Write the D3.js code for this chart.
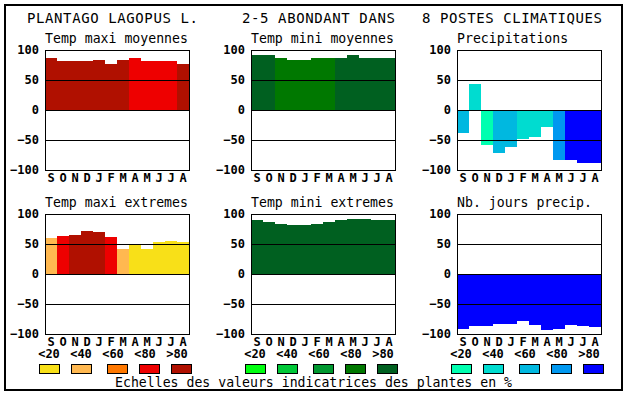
<!DOCTYPE html>
<html>
<head>
<meta charset="utf-8">
<script src="https://d3js.org/d3.v7.min.js"></script>
<style>
    body { margin: 0; background: #fff; }
    svg text { font-family: "DejaVu Sans Mono", monospace; fill: #000; }
</style>
</head>
<body>
<svg id="chart" width="630" height="394"></svg>
<script>
// months, september to august
const months = ["S", "O", "N", "D", "J", "F", "M", "A", "M", "J", "J", "A"];
const classLabels = ["<20", "<40", "<60", "<80", ">80"];

// colour scales of the indicator classes
const redScale = ["#f8e018", "#ffb850", "#ff7800", "#ee0000", "#b01000"];
const greenScale = ["#00ff10", "#00c838", "#009830", "#007800", "#006020"];
const blueScale = ["#00ffb0", "#00dcd0", "#00b8e0", "#0098f0", "#0000ff"];

const titles = ["PLANTAGO LAGOPUS L.", "2-5 ABONDANT DANS", "8 POSTES CLIMATIQUES"];
const footer = "Echelles des valeurs indicatrices des plantes en %";

// values and class (index in the colour scale) for each month
const tempMaxiMoy = [87, 82, 82, 82, 84, 77, 84, 87, 82, 82, 81, 77];
const tempMaxiMoyCls = [4, 4, 4, 4, 4, 4, 4, 3, 3, 3, 3, 4];
const tempMiniMoy = [91, 91, 86, 83, 84, 86, 87, 87, 91, 87, 87, 87];
const tempMiniMoyCls = [4, 4, 3, 3, 3, 3, 3, 4, 4, 4, 4, 4];
const precip = [-38, 44, -58, -72, -62, -49, -45, -28, -83, -83, -88, -88];
const precipCls = [2, 1, 0, 2, 2, 1, 1, 1, 3, 4, 4, 4];
const tempMaxiExt = [60, 63, 65, 72, 70, 62, 42, 48, 42, 53, 55, 53];
const tempMaxiExtCls = [1, 3, 4, 4, 4, 3, 1, 0, 0, 0, 0, 0];
const tempMiniExt = [90, 87, 84, 82, 82, 84, 87, 90, 92, 92, 90, 90];
const tempMiniExtCls = [4, 4, 4, 4, 4, 4, 4, 4, 4, 4, 4, 4];
const nbJours = [-92, -86, -86, -84, -84, -79, -85, -93, -92, -85, -87, -88];
const nbJoursCls = [4, 4, 4, 4, 4, 4, 4, 4, 4, 4, 4, 4];

const panels = [
    {name: "Temp maxi moyennes", values: tempMaxiMoy, cls: tempMaxiMoyCls, colors: redScale, col: 0, row: 0},
    {name: "Temp mini moyennes", values: tempMiniMoy, cls: tempMiniMoyCls, colors: greenScale, col: 1, row: 0},
    {name: "Precipitations", values: precip, cls: precipCls, colors: blueScale, col: 2, row: 0},
    {name: "Temp maxi extremes", values: tempMaxiExt, cls: tempMaxiExtCls, colors: redScale, col: 0, row: 1},
    {name: "Temp mini extremes", values: tempMiniExt, cls: tempMiniExtCls, colors: greenScale, col: 1, row: 1},
    {name: "Nb. jours precip.", values: nbJours, cls: nbJoursCls, colors: blueScale, col: 2, row: 1}
];

const svg = d3.select("#chart");

/** layout */
const colLeft = [45, 251, 457];
const rowTop = [50, 214];
const pw = 144, ph = 120;

// outer frame
svg.append("rect")
    .attr("x", 5).attr("y", 5)
    .attr("width", 617).attr("height", 385)
    .attr("fill", "none").attr("stroke", "#000").attr("stroke-width", 2);

// header line
const titleX = [27, 242, 422];
svg.selectAll("text.title")
    .data(titles)
    .join("text")
    .attr("class", "title")
    .attr("x", (d, i) => titleX[i])
    .attr("y", 23)
    .style("font-size", "14px")
    .style("letter-spacing", "0.6px")
    .text(d => d);

const x = d3.scaleBand().domain(d3.range(months.length)).range([0, pw]);
const y = d3.scaleLinear().domain([-100, 100]).range([ph, 0]);

panels.forEach(p => {
    let g = svg.append("g")
        .attr("transform", `translate(${colLeft[p.col]}, ${rowTop[p.row]})`);

    g.append("text")
        .attr("x", 0)
        .attr("y", -7)
        .style("font-size", "13.2px")
        .text(p.name);

    // bars
    g.selectAll("rect.bar")
        .data(p.values)
        .join("rect")
        .attr("class", "bar")
        .attr("x", (d, i) => x(i))
        .attr("y", d => Math.min(y(d), y(0)))
        .attr("width", x.bandwidth())
        .attr("height", d => Math.abs(y(d) - y(0)))
        .attr("fill", (d, i) => p.colors[p.cls[i]])
        .attr("shape-rendering", "crispEdges");

    // horizontal rules at 50, 0, -50
    g.selectAll("line.grid")
        .data([50, 0, -50])
        .join("line")
        .attr("class", "grid")
        .attr("x1", 0).attr("x2", pw)
        .attr("y1", d => y(d) + 0.5).attr("y2", d => y(d) + 0.5)
        .attr("stroke", "#000");

    g.append("rect")
        .attr("x", 0.5).attr("y", 0.5)
        .attr("width", pw).attr("height", ph)
        .attr("fill", "none").attr("stroke", "#000");

    // y axis, labels only
    let yAxis = g.append("g")
        .call(d3.axisLeft(y).tickValues([-100, -50, 0, 50, 100]).tickSize(0).tickPadding(6));
    yAxis.select(".domain").remove();
    yAxis.selectAll("text")
        .style("font-family", "'DejaVu Sans Mono', monospace")
        .style("font-size", "12px")
        .style("font-weight", "bold");

    // month letters
    let xAxis = g.append("g")
        .attr("transform", `translate(0, ${ph})`)
        .call(d3.axisBottom(x).tickSize(0).tickPadding(3).tickFormat(i => months[i]));
    xAxis.select(".domain").remove();
    xAxis.selectAll("text")
        .style("font-family", "'DejaVu Sans Mono', monospace")
        .style("font-size", "12px")
        .style("font-weight", "bold");
});

// legend of the colour classes under each column
const labelOffset = [4, 36, 68, 100, 132];
const boxOffset = [-6, 26, 62, 94, 126];
const scales = [redScale, greenScale, blueScale];

scales.forEach((colors, c) => {
    let g = svg.append("g").attr("transform", `translate(${colLeft[c]}, 0)`);

    g.selectAll("text.cls")
        .data(classLabels)
        .join("text")
        .attr("class", "cls")
        .attr("x", (d, i) => labelOffset[i])
        .attr("y", 358)
        .attr("text-anchor", "middle")
        .style("font-size", "12px")
        .style("font-weight", "bold")
        .text(d => d);

    g.selectAll("rect.box")
        .data(colors)
        .join("rect")
        .attr("class", "box")
        .attr("x", (d, i) => boxOffset[i] + 0.5)
        .attr("y", 364.5)
        .attr("width", 20)
        .attr("height", 9)
        .attr("fill", d => d)
        .attr("stroke", "#000");
});

svg.append("text")
    .attr("x", 115)
    .attr("y", 387)
    .style("font-size", "13.2px")
    .text(footer);
</script>
</body>
</html>
